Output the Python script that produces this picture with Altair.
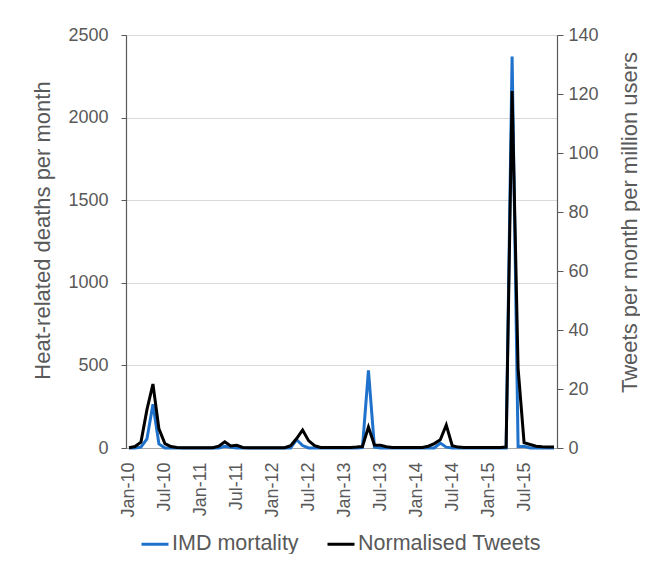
import altair as alt
import pandas as pd

# ---- data (monthly, Jan-2010 .. Dec-2015) ----
tick_labels = ["Jan-10", "Jul-10", "Jan-11", "Jul-11", "Jan-12", "Jul-12",
               "Jan-13", "Jul-13", "Jan-14", "Jul-14", "Jan-15", "Jul-15"]

imd_mortality = [
    0, 0, 5, 55, 265, 25, 0, 0, 0, 0, 0, 0,          # 2010
    0, 0, 0, 0, 10, 5, 0, 0, 0, 0, 0, 0,             # 2011
    0, 0, 0, 0, 50, 15, 0, 0, 0, 0, 0, 0,            # 2012
    0, 0, 0, 3, 470, 5, 0, 0, 0, 0, 0, 0,            # 2013
    0, 0, 0, 0, 30, 5, 0, 0, 0, 0, 0, 0,             # 2014
    0, 0, 0, 0, 2370, 8, 10, 0, 0, 0, 0, 0,          # 2015
]

tweets = [
    0.1, 0.5, 2.0, 13.0, 21.7, 6.5, 1.5, 0.5, 0.2, 0.1, 0.1, 0.1,   # 2010
    0.1, 0.1, 0.1, 0.6, 2.1, 0.7, 0.9, 0.2, 0.1, 0.1, 0.1, 0.1,     # 2011
    0.1, 0.1, 0.1, 0.8, 3.2, 6.1, 2.5, 0.8, 0.2, 0.2, 0.2, 0.2,     # 2012
    0.2, 0.2, 0.3, 0.5, 7.1, 1.0, 0.9, 0.4, 0.2, 0.2, 0.2, 0.2,     # 2013
    0.2, 0.2, 0.6, 1.5, 2.8, 7.8, 0.8, 0.3, 0.2, 0.2, 0.2, 0.2,     # 2014
    0.2, 0.2, 0.2, 0.3, 121.0, 27.0, 1.8, 1.2, 0.6, 0.4, 0.3, 0.3,  # 2015
]

series_names = ["IMD mortality", "Normalised Tweets"]
series_colors = ["#1f72cc", "#000000"]

month_index = list(range(len(tweets)))
df = pd.DataFrame({"m": month_index, "imd": imd_mortality, "tw": tweets})

FONT = "Liberation Sans"
TXT = "#595959"

x_enc = alt.X(
    "m:Q",
    scale=alt.Scale(domain=[-0.5, 71.5], nice=False, zero=False),
    axis=alt.Axis(
        values=list(range(0, 72, 6)),
        labelExpr=f"{tick_labels}[datum.value / 6]",
        labelAngle=270,
        ticks=False,
        grid=False,
        title=None,
        domainColor="#a6a6a6",
        domainWidth=1.2,
        labelPadding=14,
        labelFontSize=18,
        labelColor=TXT,
        labelFont=FONT,
    ),
)

left_axis = alt.Axis(
    orient="left",
    values=[0, 500, 1000, 1500, 2000, 2500],
    format="d",
    title="Heat-related deaths per month",
    titleX=-84,
    titleY=195,
    titleAngle=270,
    titleAlign="center",
    titleBaseline="middle",
    titleFontSize=22,
    titleFontWeight="normal",
    titleColor=TXT,
    titleFont=FONT,
    grid=True,
    gridColor="#d9d9d9",
    gridWidth=1,
    domainColor="#595959",
    domainWidth=1.2,
    tickColor="#595959",
    tickSize=5,
    labelPadding=13,
    labelFontSize=18,
    labelColor=TXT,
    labelFont=FONT,
)

right_axis = alt.Axis(
    orient="right",
    values=[0, 20, 40, 60, 80, 100, 120, 140],
    format="d",
    title="Tweets per month per million users",
    titleX=72,
    titleY=187,
    titleAngle=270,
    titleAlign="center",
    titleBaseline="middle",
    titleFontSize=22,
    titleFontWeight="normal",
    titleColor=TXT,
    titleFont=FONT,
    grid=False,
    domainColor="#595959",
    domainWidth=1.2,
    tickColor="#595959",
    tickSize=6,
    labelPadding=5,
    labelFontSize=18,
    labelColor=TXT,
    labelFont=FONT,
)

color_scale = alt.Scale(domain=series_names, range=series_colors)
legend = alt.Legend(
    title=None,
    orient="none",
    legendX=14,
    legendY=494,
    direction="horizontal",
    symbolType="stroke",
    symbolStrokeWidth=3,
    symbolSize=729,
    labelFontSize=21.5,
    labelColor=TXT,
    labelFont=FONT,
    labelOffset=2,
    labelLimit=0,
    columnPadding=22,
)

blue = alt.Chart(df).transform_calculate(
    series=f"'{series_names[0]}'"
).mark_line(strokeWidth=3).encode(
    x=x_enc,
    y=alt.Y("imd:Q", scale=alt.Scale(domain=[0, 2500], nice=False), axis=left_axis),
    color=alt.Color("series:N", scale=color_scale, legend=legend),
)

black = alt.Chart(df).transform_calculate(
    series=f"'{series_names[1]}'"
).mark_line(strokeWidth=3).encode(
    x=x_enc,
    y=alt.Y("tw:Q", scale=alt.Scale(domain=[0, 140], nice=False), axis=right_axis),
    color=alt.Color("series:N", scale=color_scale, legend=legend),
)

chart = (
    alt.layer(blue, black)
    .resolve_scale(y="independent")
    .properties(
        width=431,
        height=413,
        autosize=alt.AutoSizeParams(type="none"),
        padding={"left": 118, "top": 27, "right": 83, "bottom": 106},
    )
    .configure_view(stroke=None)
    .configure(background="white")
)

chart.save("out.html", embed_options={"renderer": "svg", "actions": False})
